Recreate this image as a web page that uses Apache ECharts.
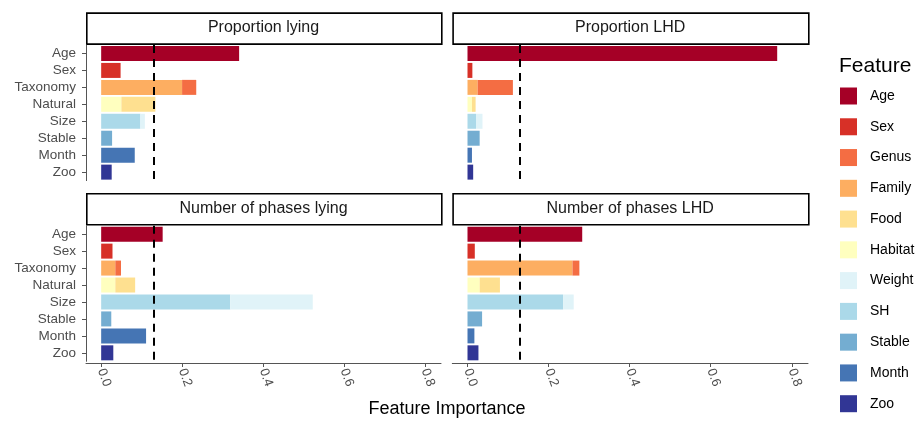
<!DOCTYPE html>
<html>
<head>
<meta charset="utf-8">
<script src="https://cdn.jsdelivr.net/npm/echarts@6/dist/echarts.min.js"></script>
<style>
  html, body { margin: 0; background: #fff; }
  #chart { width: 919px; height: 421px; }
</style>
</head>
<body>
<div id="chart"></div>
<script>
// rows of each panel, top to bottom
const categories = ["Age", "Sex", "Taxonomy", "Natural", "Size", "Stable", "Month", "Zoo"];
// legend order
const legendFeatures = ["Age", "Sex", "Genus", "Family", "Food", "Habitat", "Weight", "SH", "Stable", "Month", "Zoo"];
// stacking order (left to right inside a bar)
const stackFeatures = ["Age", "Sex", "Family", "Genus", "Habitat", "Food", "SH", "Weight", "Stable", "Month", "Zoo"];
const featureRow = ["Age", "Sex", "Taxonomy", "Taxonomy", "Natural", "Natural", "Size", "Size", "Stable", "Month", "Zoo"];

// importance values, in stackFeatures order
const propLying   = [0.341, 0.048, 0.200, 0.035, 0.050, 0.084, 0.097, 0.011, 0.027, 0.083, 0.026];
const propLHD     = [0.764, 0.012, 0.025, 0.087, 0.011, 0.009, 0.021, 0.016, 0.030, 0.011, 0.014];
const phasesLying = [0.152, 0.028, 0.035, 0.014, 0.035, 0.049, 0.319, 0.204, 0.025, 0.111, 0.030];
const phasesLHD   = [0.283, 0.018, 0.259, 0.017, 0.030, 0.050, 0.236, 0.026, 0.036, 0.017, 0.027];

const xTicks = [0, 0.2, 0.4, 0.6, 0.8];
const threshold = 0.125;

const colors = {
  Age: "#a50026", Sex: "#d73027", Genus: "#f46d43", Family: "#fdae61", Food: "#fee090",
  Habitat: "#ffffbf", Weight: "#e0f3f8", SH: "#abd9e9", Stable: "#74add1", Month: "#4575b4", Zoo: "#313695"
};

const FONT = "Liberation Sans, Arial, sans-serif";

const panels = [
  { title: "Proportion lying", data: propLying, left: 86, width: 355, top: 43.3, yLab: true, xLab: false },
  { title: "Proportion LHD", data: propLHD, left: 452.3, width: 355.7, top: 43.3, yLab: false, xLab: false },
  { title: "Number of phases lying", data: phasesLying, left: 86, width: 355, top: 224, yLab: true, xLab: true },
  { title: "Number of phases LHD", data: phasesLHD, left: 452.3, width: 355.7, top: 224, yLab: false, xLab: true }
];
const panelH = 139;
const bandH = 16.95;
const inset = (panelH - bandH * 8) / 2;

var chart = echarts.init(document.getElementById("chart"));

var grids = [], xAxes = [], yAxes = [], series = [], graphics = [];

panels.forEach(function (p, i) {
  grids.push({ left: p.left, top: p.top + inset, width: p.width, height: bandH * 8 });
  xAxes.push({
    gridIndex: i, type: "value", min: -0.0375, max: 0.84,
    offset: inset,
    axisLine: { show: p.xLab, onZero: false, lineStyle: { color: "#555", width: 1 } },
    axisTick: { show: p.xLab, length: 4, customValues: xTicks, lineStyle: { color: "#555" } },
    axisLabel: {
      show: p.xLab, customValues: xTicks, rotate: -70, margin: 6,
      color: "#4d4d4d", fontSize: 13, fontFamily: FONT,
      formatter: function (v) { return v.toFixed(1); }
    },
    splitLine: { show: false }
  });
  yAxes.push({
    gridIndex: i, type: "category", data: categories, inverse: true,
    show: p.yLab,
    axisLine: { show: true, onZero: false, lineStyle: { color: "#555", width: 1 } },
    axisTick: { show: true, length: 4, alignWithLabel: true, interval: 0, lineStyle: { color: "#555" } },
    axisLabel: { color: "#4d4d4d", fontSize: 13.5, fontFamily: FONT, margin: 10, interval: 0 }
  });

  stackFeatures.forEach(function (f, k) {
    var row = categories.indexOf(featureRow[k]);
    var vals = categories.map(function (c, r) { return r === row ? p.data[k] : null; });
    var s = {
      name: f, type: "bar", stack: "s" + i, xAxisIndex: i, yAxisIndex: i,
      data: vals, barWidth: 15,
      itemStyle: { color: colors[f] },
      emphasis: { disabled: true }
    };
    if (k === 0) {
      s.markLine = {
        silent: true, symbol: "none", label: { show: false },
        lineStyle: { color: "#000", type: [8, 6], width: 2 },
        data: [{ xAxis: threshold }]
      };
    }
    series.push(s);
  });

  // facet strip
  graphics.push({
    type: "rect", left: p.left, top: p.top - 31,
    shape: { width: p.width, height: 31 },
    style: { fill: "#fff", stroke: "#000", lineWidth: 1.6 }
  });
  graphics.push({
    type: "text", x: p.left + p.width / 2, y: p.top - 15.5,
    style: { text: p.title, fill: "#1a1a1a", font: "16px " + FONT, textAlign: "center", textVerticalAlign: "middle" }
  });
});

graphics.push({
  type: "text", x: 447, y: 409,
  style: { text: "Feature Importance", fill: "#000", font: "18px " + FONT, textAlign: "center", textVerticalAlign: "middle" }
});
graphics.push({
  type: "text", x: 839, y: 66,
  style: { text: "Feature", fill: "#000", font: "21px " + FONT, textAlign: "left", textVerticalAlign: "middle" }
});

chart.setOption({
  animation: false,
  grid: grids,
  xAxis: xAxes,
  yAxis: yAxes,
  legend: {
    data: legendFeatures, orient: "vertical", left: 840, top: 87.5, padding: 0,
    icon: "rect", itemWidth: 17, itemHeight: 17, itemGap: 13.77,
    selectedMode: false,
    textStyle: { color: "#000", fontSize: 14, fontFamily: FONT, padding: [0, 0, 0, 8] }
  },
  graphic: graphics,
  series: series
});
</script>
</body>
</html>
